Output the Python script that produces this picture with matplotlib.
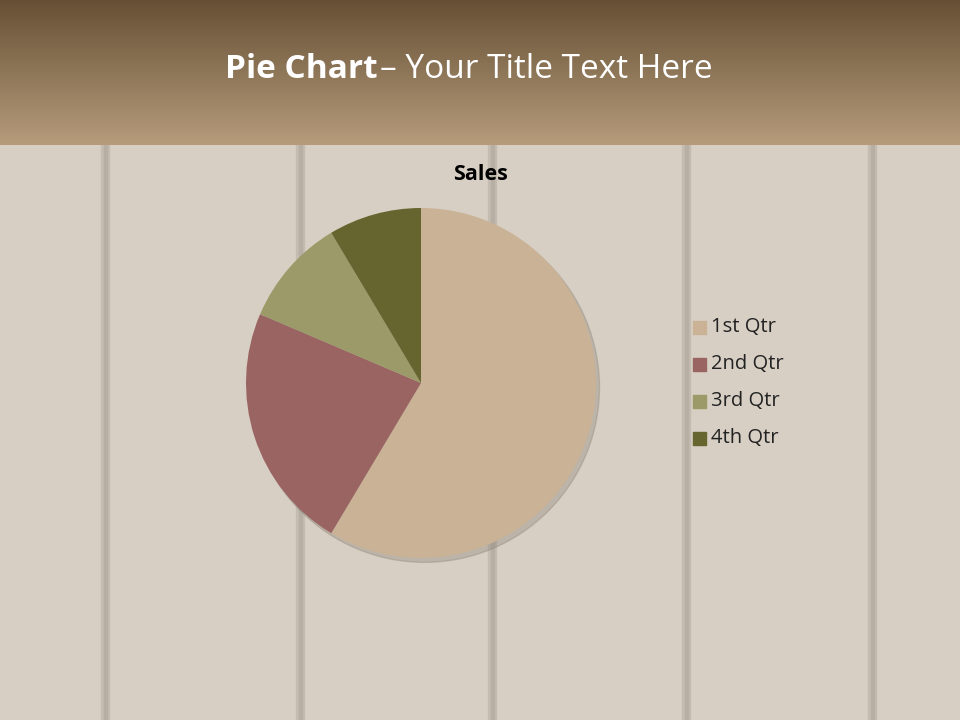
#!/usr/bin/env python3
"""Pie chart slide: quarterly sales on a wood-plank background."""
import numpy as np
import matplotlib.pyplot as plt
from matplotlib.patches import Rectangle, Circle

W, H, DPI = 960, 720, 100

# data
quarters = ["1st Qtr", "2nd Qtr", "3rd Qtr", "4th Qtr"]
sales = [8.2, 3.2, 1.4, 1.2]
slice_colors = ["#c9b296", "#9a6462", "#9b9a68", "#67652f"]

chart_title = "Sales"
slide_title_bold = "Pie Chart"
slide_title_rest = "– Your Title Text Here"

FONT = ["Open Sans", "DejaVu Sans"]

fig = plt.figure(figsize=(W / DPI, H / DPI), dpi=DPI)

# background (wood planks + header band)
bg = fig.add_axes([0, 0, 1, 1])
bg.set_xlim(0, W)
bg.set_ylim(H, 0)
bg.axis("off")
bg.add_patch(Rectangle((0, 0), W, H, color="#d7cfc4", zorder=0))
for sx in [105, 300, 492, 686, 872]:
    bg.add_patch(Rectangle((sx - 4, 145), 8, H - 145, color="#c4bcb1", zorder=1))
    bg.add_patch(Rectangle((sx - 1.5, 145), 3, H - 145, color="#b8afa4", zorder=1))
grad = np.linspace(0, 1, 256).reshape(-1, 1)
top = np.array([0x66, 0x50, 0x35]) / 255
bot = np.array([0xb6, 0x9c, 0x7b]) / 255
band = top + (bot - top) * grad[..., None]
bg.imshow(band, extent=(0, W, 145, 0), aspect="auto", zorder=2)
bg.set_xlim(0, W)
bg.set_ylim(H, 0)

bg.text(378, 70, slide_title_bold, ha="right", va="center", color="white",
        fontsize=24, fontweight="bold", family=FONT, zorder=3)
bg.text(380, 70, slide_title_rest, ha="left", va="center", color="white",
        fontsize=24, family=FONT, zorder=3)
bg.text(480, 175, chart_title, ha="center", va="center", color="black",
        fontsize=15.5, fontweight="bold", family=FONT, zorder=3)

# pie
cx, cy, r = 421, 383, 175
pad = 20
ax = fig.add_axes([(cx - r - pad) / W, 1 - (cy + r + pad) / H,
                   2 * (r + pad) / W, 2 * (r + pad) / H])
lim = (r + pad) / r
ax.axis("off")
ax.add_patch(Circle((0.02, -0.025), 1.0, color="#8c8276", alpha=0.35, zorder=0))
wedges, _ = ax.pie(sales, colors=slice_colors, startangle=90, counterclock=False,
                   radius=1.0, wedgeprops=dict(linewidth=0))
ax.set_xlim(-lim, lim)
ax.set_ylim(-lim, lim)

# legend
leg_y0, leg_dy = 327, 37
for i, (q, c) in enumerate(zip(quarters, slice_colors)):
    y = leg_y0 + i * leg_dy
    bg.add_patch(Rectangle((693, y - 6.5), 13, 13, color=c, zorder=3))
    bg.text(711, y, q, ha="left", va="center", fontsize=14.5, color="#222222",
            family=FONT, zorder=3)

fig.savefig("out.png", dpi=DPI)
